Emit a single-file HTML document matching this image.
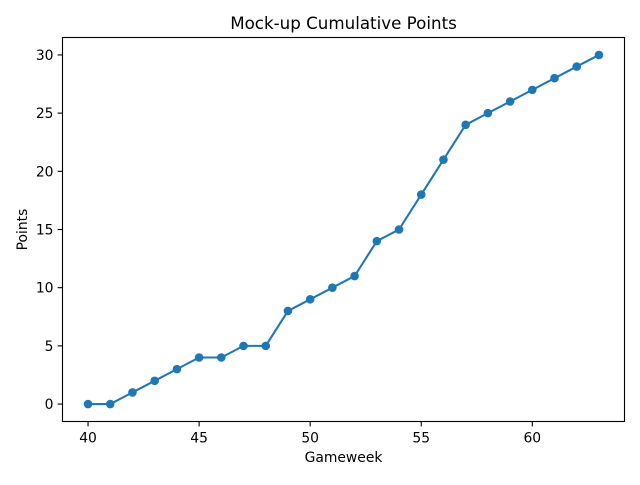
<!DOCTYPE html>
<html><head><meta charset="utf-8"><style>
body{margin:0;background:#fff;}
svg text{font-family:"DejaVu Sans","Liberation Sans",sans-serif;fill:#000;}
</style></head><body>
<svg id="chart" width="640" height="480" xmlns="http://www.w3.org/2000/svg">
<rect width="640" height="480" fill="#fff"/>
<text x="343.5" y="29" font-size="16.7" text-anchor="middle">Mock-up Cumulative Points</text>
<text x="343.5" y="462" font-size="13.9" text-anchor="middle">Gameweek</text>
<text x="0" y="0" font-size="13.9" text-anchor="middle" transform="translate(27,229.5) rotate(-90)">Points</text>
<g id="ticks"></g>
<g id="marks"></g>
<rect x="62.5" y="37.5" width="562" height="384" fill="none" stroke="#000" stroke-width="1.1"/>
</svg>
<script>
const gameweeks=[40,41,42,43,44,45,46,47,48,49,50,51,52,53,54,55,56,57,58,59,60,61,62,63];
const points=[0,0,1,2,3,4,4,5,5,8,9,10,11,14,15,18,21,24,25,26,27,28,29,30];
const xTicks=[40,45,50,55,60];
const yTicks=[0,5,10,15,20,25,30];
const L=62.5,R=624.5,T=37.5,B=421.5;
const xmin=Math.min(...gameweeks),xmax=Math.max(...gameweeks);
const ymin=Math.min(...points),ymax=Math.max(...points);
const xpad=(xmax-xmin)*0.05,ypad=(ymax-ymin)*0.05;
const sx=v=>L+(v-(xmin-xpad))/((xmax+xpad)-(xmin-xpad))*(R-L);
const sy=v=>B-(v-(ymin-ypad))/((ymax+ypad)-(ymin-ypad))*(B-T);
const NS="http://www.w3.org/2000/svg";
const tg=document.getElementById('ticks'),mg=document.getElementById('marks');
function mk(tag,attrs,parent){const e=document.createElementNS(NS,tag);for(const k in attrs)e.setAttribute(k,attrs[k]);parent.appendChild(e);return e;}
xTicks.forEach(v=>{
 const l=mk('line',{x1:sx(v),x2:sx(v),y1:B,y2:B+4.9,stroke:'#000','stroke-width':1.1},tg);
 
 
 const t=mk('text',{x:sx(v),y:B+21,'font-size':13.9,'text-anchor':'middle'},tg);t.textContent=v;
 
 
});
yTicks.forEach(v=>{
 const l=mk('line',{x1:L-4.9,x2:L,y1:sy(v),y2:sy(v),stroke:'#000','stroke-width':1.1},tg);
 
 
 const t=mk('text',{x:L-9,y:sy(v)+5,'font-size':13.9,'text-anchor':'end'},tg);t.textContent=v;
 
 
});
const pl=mk('polyline',{points:gameweeks.map((g,i)=>sx(g)+','+sy(points[i])).join(' '),fill:'none',stroke:'#1f77b4','stroke-width':2.08},mg);


gameweeks.forEach((g,i)=>{
 const c=mk('circle',{cx:sx(g),cy:sy(points[i]),r:4.3,fill:'#1f77b4'},mg);
 
 
});
</script>
</body></html>
